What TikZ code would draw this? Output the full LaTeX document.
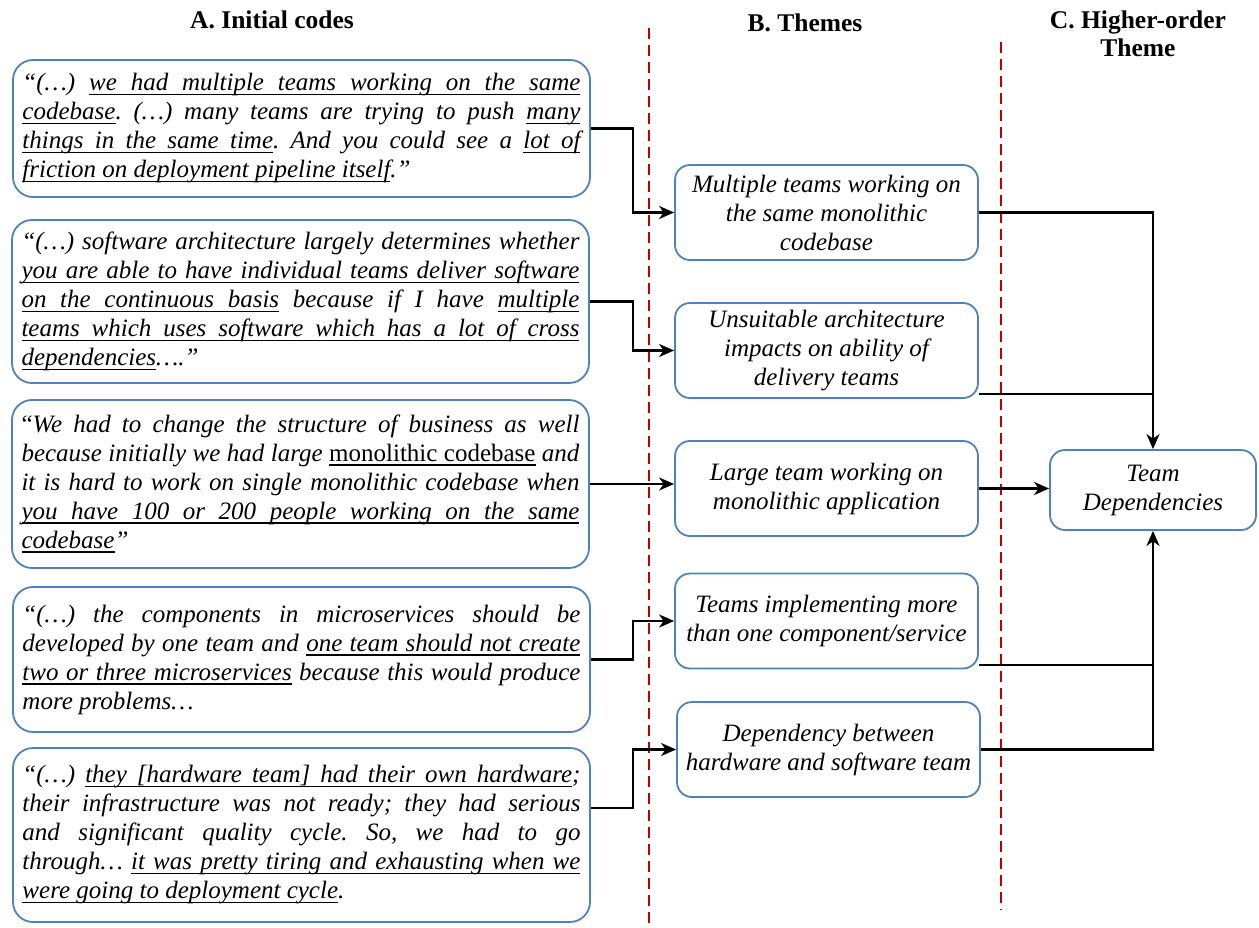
\documentclass[tikz,border=0pt]{standalone}
\usepackage{fontspec}
\setmainfont{Liberation Serif}
\usetikzlibrary{arrows.meta}
\definecolor{boxblue}{HTML}{4F81BD}
\definecolor{dashred}{HTML}{C00000}
\tolerance=10000
\hbadness=10000
\hfuzz=30pt
\hyphenpenalty=10000
\exhyphenpenalty=10000
\frenchspacing
% word-by-word underline with stretchable underlined spaces
\def\ulbox#1{\setbox0\hbox{#1}\hbox{\rlap{\rule[-4.5pt]{\wd0}{1.6pt}}\box0}}
\def\ulspace{\leaders\hrule height -2.9pt depth 4.5pt\hskip\fontdimen2\font plus \fontdimen3\font minus \fontdimen4\font}
\def\myulX#1 #2\relax{\ulbox{#1}\if\relax\detokenize{#2}\relax\else\ulspace\myulX#2\relax\fi}
\newcommand\myul[1]{\myulX#1 \relax}
\tikzset{
  quotebox/.style={draw=boxblue, line width=1.8pt, rounded corners=20pt,
    text width=558pt, align=justify, inner xsep=9.5pt, inner ysep=0pt,
    font=\fontsize{25}{29}\selectfont\itshape},
  themebox/.style={draw=boxblue, line width=1.8pt, rounded corners=15pt,
    minimum width=303pt, minimum height=95pt, align=center, inner sep=0pt,
    font=\fontsize{25}{29}\selectfont\itshape},
  conn/.style={line width=2.2pt, -{Stealth[length=15pt,width=13pt,inset=4.5pt]}},
  plainline/.style={line width=2.2pt},
  divider/.style={draw=dashred, line width=2.6pt, dash pattern=on 11pt off 6pt},
  head/.style={font=\fontsize{25.5}{28}\selectfont\bfseries, align=center, inner sep=0pt}
}
\begin{document}
\begin{tikzpicture}[x=1pt,y=-1pt]
\useasboundingbox (0,0) rectangle (1259,928);

% dividers
\coordinate (d1t) at (649,28);
\coordinate (d1b) at (649,928);
\coordinate (d2t) at (1001,42);
\coordinate (d2b) at (1001,910);
\draw[divider] (d1t) -- (d1b);
\draw[divider] (d2t) -- (d2b);

% headers
\node[head] (hA) at (272,20) {A. Initial codes};
\node[head] (hB) at (805,23) {B. Themes};
\node[head] (hC) at (1138,34) {C. Higher-order\\Theme};

% quote boxes
\node[quotebox, minimum height=137pt] (b1) at (301.5,128.5) {%
“(…) \myul{we had multiple teams working on the same}\linebreak
\myul{codebase}. (…) many teams are trying to push \myul{many}\linebreak
\myul{things in the same time}. And you could see a \myul{lot of}\linebreak
\myul{friction on deployment pipeline itself}.”};

\node[quotebox, minimum height=163pt] (b2) at (300.5,301.5) {%
“(…) software architecture largely determines whether\linebreak
\myul{you are able to have individual teams deliver software}\linebreak
\myul{on the continuous basis} because if I have \myul{multiple}\linebreak
\myul{teams which uses software which has a lot of cross}\linebreak
\myul{dependencies}….”};

\node[quotebox, minimum height=168pt] (b3) at (300.5,484) {%
{\upshape“}We had to change the structure of business as well\linebreak
because initially we had large {\upshape\myul{monolithic codebase}} and\linebreak
it is hard to work on single monolithic codebase when\linebreak
\myul{you have 100 or 200 people working on the same}\linebreak
\myul{codebase}”};

\node[quotebox, minimum height=145pt] (b4) at (301.5,659.5) {%
“(…) the components in microservices should be\linebreak
developed by one team and \myul{one team should not create}\linebreak
\myul{two or three microservices} because this would produce\linebreak
more problems…};

\node[quotebox, minimum height=174pt] (b5) at (301.5,835) {%
“(…) \myul{they [hardware team] had their own hardware};\linebreak
their infrastructure was not ready; they had serious\linebreak
and significant quality cycle. So, we had to go\linebreak
through… \myul{it was pretty tiring and exhausting when we}\linebreak
\myul{were going to deployment cycle}.};

% theme boxes
\node[themebox] (m1) at (826.5,212.5) {Multiple teams working on\\the same monolithic\\codebase};
\node[themebox] (m2) at (826.5,350.5) {Unsuitable architecture\\impacts on ability of\\delivery teams};
\node[themebox] (m3) at (826.5,488.5) {Large team working on\\monolithic application};
\node[themebox] (m4) at (826.5,621) {Teams implementing more\\than one component/service};
\node[themebox] (m5) at (828.5,749.5) {Dependency between\\hardware and software team};

% higher-order theme
\node[themebox, minimum width=206pt, minimum height=80pt] (td) at (1153,490) {Team\\Dependencies};

% connectors left
\coordinate (jl) at (633,0);
\draw[conn] (b1.east) -- (b1.east -| jl) |- (m1.west);
\draw[conn] (b2.east) -- (b2.east -| jl) |- (m2.west);
\draw[conn] (b3.east) -- (b3.east -| m3.west);
\draw[conn] (b4.east) -- (b4.east -| jl) |- (m4.west);
\draw[conn] ([yshift=27pt]b5.east) -- ([yshift=27pt]b5.east -| jl) |- (m5.west);

% connectors right
\draw[conn] (m1.east) -| (td.north);
\draw[plainline] ([yshift=-43.5pt]m2.east) -- ([yshift=-43.5pt]m2.east -| td.north);
\draw[conn] (m3.east) -- (m3.east -| td.west);
\draw[plainline] ([yshift=-44pt]m4.east) -- ([yshift=-44pt]m4.east -| td.south);
\draw[conn] (m5.east) -| (td.south);
\end{tikzpicture}
\end{document}
